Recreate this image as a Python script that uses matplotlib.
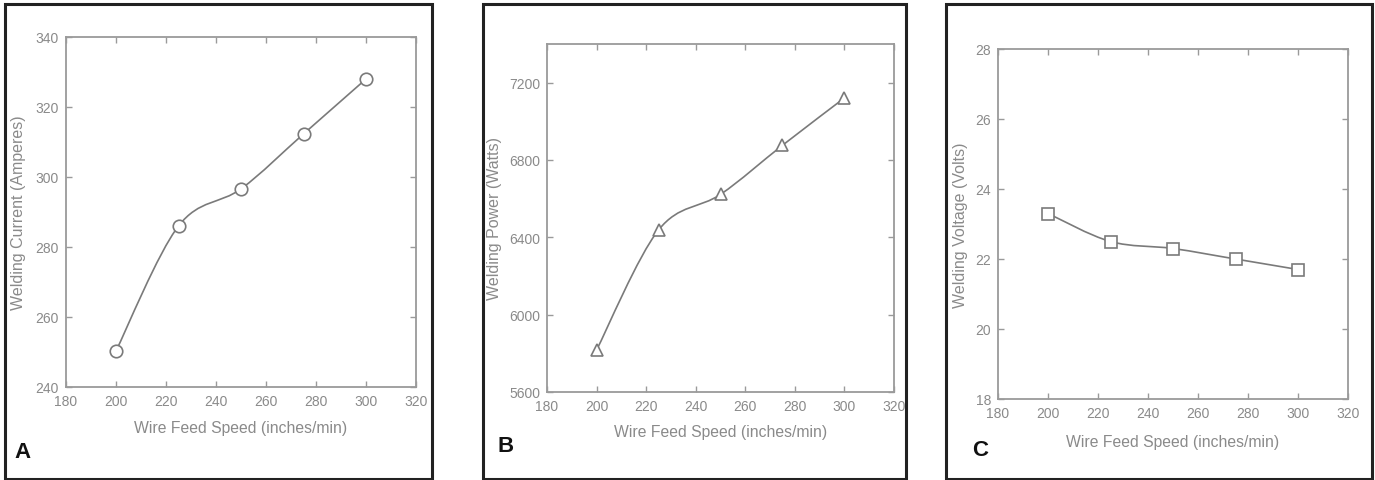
import matplotlib
matplotlib.use('Agg')
import matplotlib.pyplot as plt
from matplotlib.path import Path
from matplotlib.patches import PathPatch, Rectangle

# data
speed = [200, 225, 250, 275, 300]
current = [250.3, 286.0, 296.6, 312.3, 328.0]
power = [5817, 6438, 6622, 6876, 7121]
voltage = [23.3, 22.5, 22.3, 22.0, 21.7]

x_ticks = [180, 200, 220, 240, 260, 280, 300, 320]
current_ticks = [240, 260, 280, 300, 320, 340]
power_ticks = [5600, 6000, 6400, 6800, 7200]
voltage_ticks = [18, 20, 22, 24, 26, 28]

W, H = 1375, 481
plt.rcParams['font.family'] = ['Liberation Sans', 'DejaVu Sans']
fig = plt.figure(figsize=(W / 100, H / 100), dpi=100)

TXT = '#8a8a8a'
AX = '#9a9a9a'
LINE = '#7a7a7a'


def smooth_line(ax, x, y):
    # Catmull-Rom style bezier through the data points
    n = len(x)
    verts = [(x[0], y[0])]
    codes = [Path.MOVETO]
    for i in range(n - 1):
        p0 = (x[max(i - 1, 0)], y[max(i - 1, 0)])
        p1 = (x[i], y[i])
        p2 = (x[i + 1], y[i + 1])
        p3 = (x[min(i + 2, n - 1)], y[min(i + 2, n - 1)])
        c1 = (p1[0] + (p2[0] - p0[0]) / 6, p1[1] + (p2[1] - p0[1]) / 6)
        c2 = (p2[0] - (p3[0] - p1[0]) / 6, p2[1] - (p3[1] - p1[1]) / 6)
        verts += [c1, c2, p2]
        codes += [Path.CURVE4] * 3
    ax.add_patch(PathPatch(Path(verts, codes), fc='none', ec=LINE, lw=1.2, zorder=2))


panels = [
    # axes box (l, t, r, b) px, ylim, yticks, ylabel, marker, y, letter, letter xy, frame
    ((66, 38, 416, 388), (240, 340), current_ticks, 'Welding Current (Amperes)', 'o', current,
     'A', (14, 452), (5, 432), 428, 18),
    ((547, 45, 894, 393), (5600, 7400), power_ticks, 'Welding Power (Watts)', '^', power,
     'B', (498, 447), (483, 906), 433, 495),
    ((998, 50, 1348, 400), (18, 28), voltage_ticks, 'Welding Voltage (Volts)', 's', voltage,
     'C', (972, 450), (946, 1372), 442, 960),
]

for box, ylim, yt, ylab, mk, yv, letter, lxy, frame, xlab_y, ylab_x in panels:
    l, t, r, b = box
    ax = fig.add_axes([l / W, 1 - b / H, (r - l) / W, (b - t) / H])
    ax.set_xlim(180, 320)
    ax.set_ylim(*ylim)
    ax.set_xticks(x_ticks)
    ax.set_yticks(yt)
    for s in ax.spines.values():
        s.set_color(AX)
        s.set_linewidth(1.3)
    ax.tick_params(direction='in', length=4, width=1, color=AX, labelcolor=TXT,
                   labelsize=10, top=True, right=True, pad=5)
    smooth_line(ax, speed, yv)
    ax.plot(speed, yv, ls='none', marker=mk, ms=9, mfc='white', mec=LINE, mew=1.2, zorder=3)

    ax.set_xlabel('Wire Feed Speed (inches/min)', fontsize=11.3, color=TXT)
    ax.xaxis.set_label_coords(0.5, -(xlab_y - b) / (b - t))
    ax.xaxis.label.set_va('center')
    ax.set_ylabel(ylab, fontsize=11.5, color=TXT)
    ax.yaxis.set_label_coords(-(l - ylab_x) / (r - l), 0.5)
    ax.yaxis.label.set_va('center')

    fig.text(lxy[0] / W, 1 - lxy[1] / H, letter, fontsize=16, fontweight='bold',
             color='#111111', ha='left', va='center')
    fig.add_artist(Rectangle((frame[0] / W, 1 - 480 / H), (frame[1] - frame[0]) / W, 475 / H,
                             transform=fig.transFigure, fill=False, ec='#222222', lw=2.2))

fig.savefig('out.png', dpi=100)
